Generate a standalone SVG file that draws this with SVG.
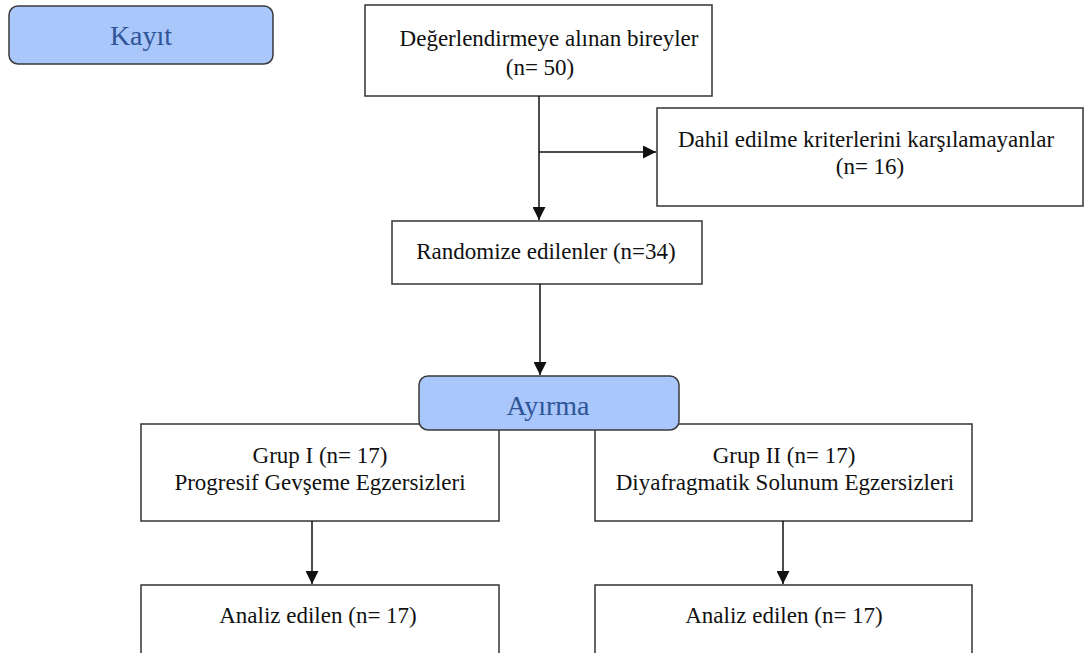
<svg xmlns="http://www.w3.org/2000/svg" width="1086" height="653" viewBox="0 0 1086 653">
<style>
.box{fill:#fff;stroke:#333;stroke-width:1.5}
.hdr{fill:#a9c7fb;stroke:#3a3a3a;stroke-width:1.5}
.t{font-family:"Liberation Serif","Times New Roman",serif;font-size:23px;fill:#111;text-anchor:middle}
.h{font-family:"Liberation Serif","Times New Roman",serif;font-size:28px;fill:#2f5597;text-anchor:middle}
.ln{stroke:#111;stroke-width:1.5;fill:none}
</style>
<defs>
<marker id="arr" markerWidth="13" markerHeight="13" refX="13" refY="6.5" orient="auto" markerUnits="userSpaceOnUse" viewBox="0 0 13 13">
<path d="M0,0 L13,6.5 L0,13 z" fill="#111"/>
</marker>
</defs>
<rect width="1086" height="653" fill="#fff"/>
<g id="kayit"><rect class="hdr" x="9" y="6" width="264" height="58" rx="9"/><text class="h" x="141" y="45">Kayıt</text></g>
<g id="degerlendirme"><rect class="box" x="365" y="5" width="347" height="91"/><text class="t" x="549" y="46">Değerlendirmeye alınan bireyler</text><text class="t" x="540" y="75">(n= 50)</text></g>
<g id="dahil"><rect class="box" x="657" y="108" width="426" height="98"/><text class="t" x="866" y="147">Dahil edilme kriterlerini karşılamayanlar</text><text class="t" x="870" y="174">(n= 16)</text></g>
<g id="randomize"><rect class="box" x="392" y="221" width="310" height="63"/><text class="t" x="546" y="259">Randomize edilenler (n=34)</text></g>
<g id="grup1"><rect class="box" x="141" y="424" width="358" height="97"/><text class="t" x="320" y="463">Grup I (n= 17)</text><text class="t" x="320" y="490">Progresif Gevşeme Egzersizleri</text></g>
<g id="grup2"><rect class="box" x="595" y="424" width="377" height="97"/><text class="t" x="784" y="463">Grup II (n= 17)</text><text class="t" x="785" y="490">Diyafragmatik Solunum Egzersizleri</text></g>
<g id="ayirma"><rect class="hdr" x="419" y="376" width="260" height="54" rx="9"/><text class="h" x="548" y="415">Ayırma</text></g>
<g id="analiz1"><rect class="box" x="141" y="585" width="358" height="80"/><text class="t" x="318" y="623">Analiz edilen (n= 17)</text></g>
<g id="analiz2"><rect class="box" x="595" y="585" width="377" height="80"/><text class="t" x="784" y="623">Analiz edilen (n= 17)</text></g>
<g id="connectors">
<line class="ln" x1="539" y1="96" x2="539" y2="220" marker-end="url(#arr)"/>
<line class="ln" x1="539" y1="152" x2="656" y2="152" marker-end="url(#arr)"/>
<line class="ln" x1="540" y1="284" x2="540" y2="375" marker-end="url(#arr)"/>
<line class="ln" x1="312" y1="521" x2="312" y2="584" marker-end="url(#arr)"/>
<line class="ln" x1="783" y1="521" x2="783" y2="584" marker-end="url(#arr)"/>
</g>
</svg>
